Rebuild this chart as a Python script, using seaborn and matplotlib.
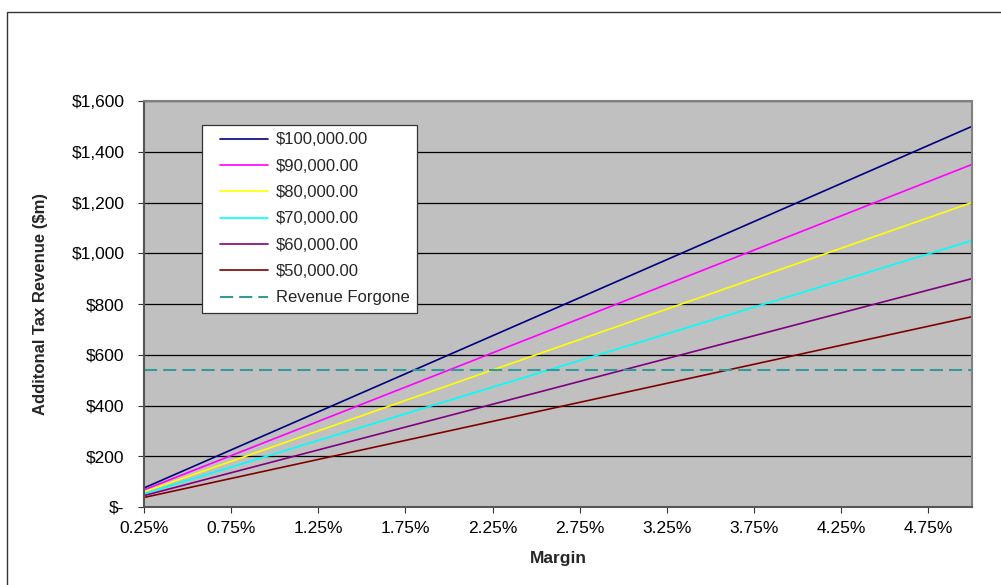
import matplotlib
matplotlib.use("Agg")
import matplotlib.pyplot as plt
import seaborn as sns
import pandas as pd
from matplotlib.patches import Rectangle
from matplotlib.ticker import FuncFormatter
from matplotlib.legend_handler import HandlerLine2D

# margin (%) along the x axis
margins = [0.25, 0.50, 0.75, 1.00, 1.25, 1.50, 1.75, 2.00, 2.25, 2.50,
           2.75, 3.00, 3.25, 3.50, 3.75, 4.00, 4.25, 4.50, 4.75, 5.00]

# additional tax revenue ($m) for each income threshold
rev_100k = [75, 150, 225, 300, 375, 450, 525, 600, 675, 750,
            825, 900, 975, 1050, 1125, 1200, 1275, 1350, 1425, 1500]
rev_90k = [67.5, 135, 202.5, 270, 337.5, 405, 472.5, 540, 607.5, 675,
           742.5, 810, 877.5, 945, 1012.5, 1080, 1147.5, 1215, 1282.5, 1350]
rev_80k = [60, 120, 180, 240, 300, 360, 420, 480, 540, 600,
           660, 720, 780, 840, 900, 960, 1020, 1080, 1140, 1200]
rev_70k = [52.5, 105, 157.5, 210, 262.5, 315, 367.5, 420, 472.5, 525,
           577.5, 630, 682.5, 735, 787.5, 840, 892.5, 945, 997.5, 1050]
rev_60k = [45, 90, 135, 180, 225, 270, 315, 360, 405, 450,
           495, 540, 585, 630, 675, 720, 765, 810, 855, 900]
rev_50k = [37.5, 75, 112.5, 150, 187.5, 225, 262.5, 300, 337.5, 375,
           412.5, 450, 487.5, 525, 562.5, 600, 637.5, 675, 712.5, 750]
forgone = [540, 540, 540, 540, 540, 540, 540, 540, 540, 540,
           540, 540, 540, 540, 540, 540, 540, 540, 540, 540]

series_names = ["$100,000.00", "$90,000.00", "$80,000.00", "$70,000.00",
                "$60,000.00", "$50,000.00"]
series_vals = [rev_100k, rev_90k, rev_80k, rev_70k, rev_60k, rev_50k]
colors = ["#000080", "#FF00FF", "#FFFF00", "#00FFFF", "#800080", "#800000"]

xtick_vals = [0.25, 0.75, 1.25, 1.75, 2.25, 2.75, 3.25, 3.75, 4.25, 4.75]
ytick_vals = [0, 200, 400, 600, 800, 1000, 1200, 1400, 1600]

sns.set_theme(style="white")
plt.rcParams["font.family"] = ["Liberation Sans", "DejaVu Sans"]

fig = plt.figure(figsize=(10.01, 5.85), dpi=100)
ax = fig.add_axes([144 / 1001, 78 / 585, 828 / 1001, 406 / 585])
ax.set_facecolor("#C0C0C0")

for name, vals, col in zip(series_names, series_vals, colors):
    df = pd.DataFrame({"Margin": margins, "Revenue": vals})
    sns.lineplot(data=df, x="Margin", y="Revenue", color=col, lw=1.2,
                 label=name, ax=ax)

df_f = pd.DataFrame({"Margin": margins, "Revenue": forgone})
sns.lineplot(data=df_f, x="Margin", y="Revenue", color="#339999", lw=1.5,
             label="Revenue Forgone", ax=ax)
ax.lines[-1].set_dashes([6.3, 2.9])

ax.set_xlim(0.25, 5.0)
ax.set_ylim(0, 1600)
ax.set_xticks(xtick_vals)
ax.set_yticks(ytick_vals)
ax.xaxis.set_major_formatter(FuncFormatter(lambda v, p: f"{v:.2f}%"))
ax.yaxis.set_major_formatter(
    FuncFormatter(lambda v, p: "$-" if v == 0 else f"${v:,.0f}"))
ax.yaxis.grid(True, color="black", lw=0.9)
ax.set_axisbelow(True)
ax.tick_params(axis="both", which="major", direction="out", length=4,
               width=0.8, color="#333333", labelsize=12.5, labelcolor="black",
               bottom=True, left=True)
ax.tick_params(axis="x", pad=6)
ax.tick_params(axis="y", pad=10)
for side in ["top", "right"]:
    ax.spines[side].set_color("#808080")
    ax.spines[side].set_linewidth(1.5)
for side in ["left", "bottom"]:
    ax.spines[side].set_color("#555555")
    ax.spines[side].set_linewidth(1.5)

ax.set_xlabel("Margin", fontsize=12.5, fontweight="bold", labelpad=11)
ax.set_ylabel("Additonal Tax Revenue ($m)", fontsize=12, fontweight="bold",
              labelpad=17)

leg = ax.legend(loc="upper left", bbox_to_anchor=(0.070, 0.941),
                frameon=True, fancybox=False, fontsize=12, handlelength=3.5,
                handletextpad=0.48, labelspacing=0.68, borderpad=0.45,
                borderaxespad=0,
                handler_map={matplotlib.lines.Line2D: HandlerLine2D(xpad=0.66)})
leg.get_frame().set_facecolor("white")
leg.get_frame().set_edgecolor("#333333")
leg.get_frame().set_linewidth(0.9)
leg.get_frame().set_alpha(1)

# outer chart border
fig.patches.append(Rectangle((7 / 1001, -0.1), 1.2, (585 - 12) / 585 + 0.1,
                             transform=fig.transFigure, fill=False,
                             edgecolor="#333333", lw=1.0))

fig.savefig("out.png", dpi=100)
